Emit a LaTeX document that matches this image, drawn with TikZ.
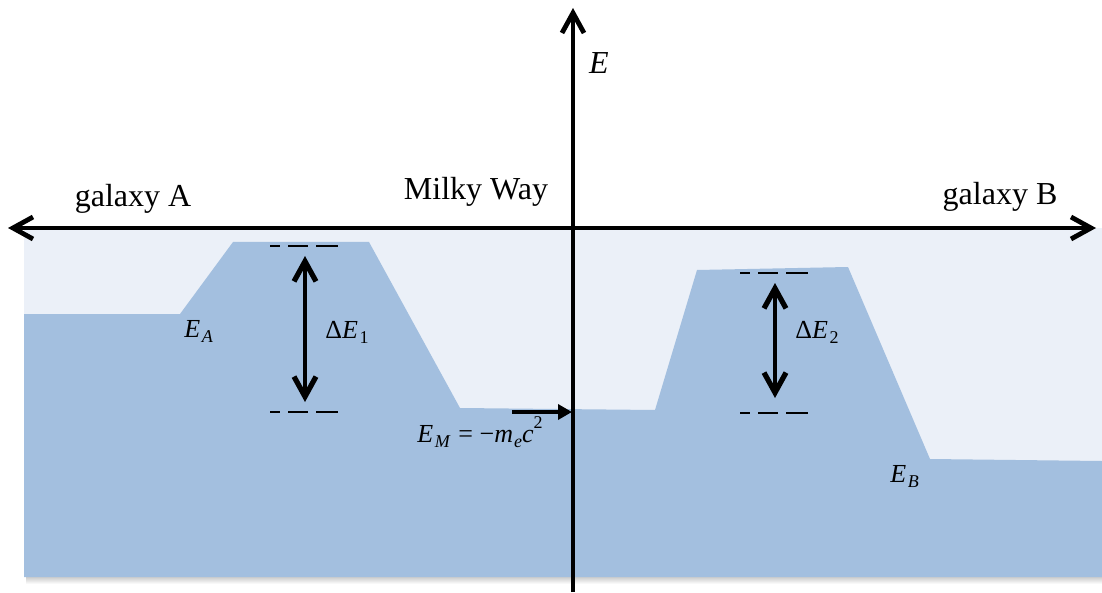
\documentclass[tikz,border=0pt]{standalone}
\usepackage{fontspec}
\setmainfont{Liberation Serif}
\usetikzlibrary{arrows.meta,positioning}
\definecolor{sky}{RGB}{235,240,248}
\definecolor{well}{RGB}{163,191,223}
\tikzstyle{axis}=[line width=1.7pt,>={Straight Barb[length=10pt,width=11pt,line width=2.4pt]}]
\tikzstyle{gap}=[line width=1.6pt,{Straight Barb[length=10pt,width=11pt,line width=2.6pt]}-{Straight Barb[length=10pt,width=11pt,line width=2.6pt]}]
\tikzstyle{level}=[line width=1.4pt,dash pattern=on 5pt off 4pt on 10pt off 4pt on 11pt]
\tikzstyle{big}=[font=\fontsize{16}{19}\selectfont]
\tikzstyle{lab}=[font=\fontsize{13}{15}\selectfont]
\newcommand{\sy}[2]{\textit{#1}\kern0.06em\raisebox{-0.45ex}{\fontsize{9}{10}\selectfont #2}}

\begin{document}
\begin{tikzpicture}[x=0.5pt,y=-0.5pt]
\useasboundingbox (0,0) rectangle (1102,593);
% background and energy profile
\shade[top color=gray!45,bottom color=white] (26,576) rectangle (1102,584);
\fill[sky] (24,228) rectangle (1102,577);
\fill[well] (24,314) -- (180,314) -- (233,242) -- (369,242) -- (460,408) -- (655,410)
  -- (697,270) -- (848,267) -- (930,459) -- (1102,461) -- (1102,577) -- (24,577) -- cycle;
% axes
\coordinate (L) at (8,228);
\coordinate (R) at (1096,228);
\coordinate (T) at (573,8);
\coordinate (O) at (573,592);
\draw[axis,<->] (L) -- (R);
\draw[axis,->] (O) -- (T);
\node[big, anchor=base] (E) at (599,74) {\textit{E}};
\node[big, anchor=base] (gA) at (133,207) {galaxy A};
\node[big, anchor=base] (MW) at (476,200) {Milky Way};
\node[big, anchor=base] (gB) at (1000,205) {galaxy B};
% first gap
\coordinate (a1) at (270,246);
\coordinate (a2) at (338,246);
\coordinate (b1) at (270,412);
\coordinate (b2) at (338,412);
\draw[level] (a1) -- (a2);
\draw[level] (b1) -- (b2);
\coordinate (u1) at (305,256);
\coordinate (d1) at (305,402);
\draw[gap] (u1) -- (d1);
\node[lab, anchor=base west, inner sep=0pt] (dE1) at (325,338) {Δ\sy{E}{1}};
% second gap
\coordinate (c1) at (740,273);
\coordinate (c2) at (808,273);
\coordinate (e1) at (740,413);
\coordinate (e2) at (808,413);
\draw[level] (c1) -- (c2);
\draw[level] (e1) -- (e2);
\coordinate (u2) at (775,283);
\coordinate (d2) at (775,398);
\draw[gap] (u2) -- (d2);
\node[lab, anchor=base west, inner sep=0pt] (dE2) at (795,338) {Δ\sy{E}{2}};
% level labels
\node[lab, anchor=base west, inner sep=0pt] (EA) at (184,337) {\sy{E}{\textit{A}}};
\node[lab, anchor=base west, inner sep=0pt] (EB) at (890,482) {\sy{E}{\textit{B}}};
\node[lab, anchor=base west, inner sep=0pt] (EM) at (417,442)
  {\sy{E}{\textit{M}}\kern0.3em=\kern0.25em−\textit{m}\kern0.04em\raisebox{-0.45ex}{\fontsize{9}{10}\selectfont\textit{e}}\textit{c}\raisebox{1.1ex}{\fontsize{9}{10}\selectfont 2}};
\coordinate (m0) at (512,412);
\coordinate (m1) at (572,412);
\draw[line width=1.7pt,-{Triangle[length=7pt,width=7.5pt]}] (m0) -- (m1);
\end{tikzpicture}
\end{document}
